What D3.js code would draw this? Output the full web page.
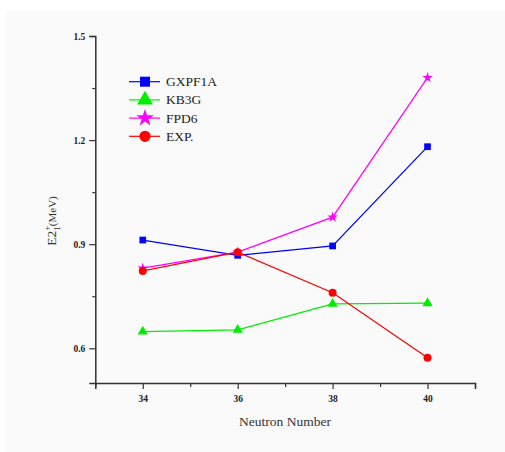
<!DOCTYPE html>
<html><head><meta charset="utf-8">
<script src="https://cdn.jsdelivr.net/npm/d3@7"></script>
<style>body{margin:0;background:#fff} svg text{font-family:"Liberation Serif",serif}</style>
</head><body>
<svg id="c" width="505" height="452"></svg>
<script>
const neutrons = [34, 36, 38, 40];
const gxpf1a = [0.912, 0.868, 0.895, 1.181];
const kb3g = [0.648, 0.653, 0.728, 0.730];
const fpd6 = [0.831, 0.877, 0.978, 1.380];
const exp = [0.823, 0.877, 0.760, 0.573];
const seriesNames = ["GXPF1A", "KB3G", "FPD6", "EXP."];
const yTicks = [0.6, 0.9, 1.2, 1.5];
const xTicks = [34, 36, 38, 40];

const series = [
  {name: seriesNames[0], values: gxpf1a, color: "#0000ff", sym: d3.symbolSquare, ms: 45, ls: 100},
  {name: seriesNames[1], values: kb3g, color: "#00ee00", sym: d3.symbolTriangle, ms: 45, ls: 110},
  {name: seriesNames[2], values: fpd6, color: "#ff00ff", sym: d3.symbolStar, ms: 35, ls: 95},
  {name: seriesNames[3], values: exp, color: "#ff0000", sym: d3.symbolCircle, ms: 50, ls: 100}
];

const svg = d3.select("#c");
svg.append("rect").attr("x", 6).attr("y", 11).attr("width", 499).attr("height", 441).attr("fill", "#fafafa");

const x = d3.scaleLinear().domain([33, 41]).range([95.3, 475]);
const y = d3.scaleLinear().domain([0.5, 1.5]).range([383, 36]);

svg.append("g").attr("transform", "translate(95.3,0)")
  .call(d3.axisLeft(y).tickValues(yTicks).tickFormat(d3.format(".1f")).tickSize(6).tickPadding(4));
svg.append("g").attr("transform", "translate(95.3,0)")
  .call(d3.axisLeft(y).tickValues([0.75, 1.05, 1.35]).tickFormat("").tickSize(3))
  .select(".domain").remove();
svg.append("g").attr("transform", "translate(0,383)")
  .call(d3.axisBottom(x).tickValues(xTicks).tickFormat(d3.format("d")).tickSize(6).tickPadding(6));
svg.append("g").attr("transform", "translate(0,383)")
  .call(d3.axisBottom(x).tickValues([33, 35, 37, 39, 41]).tickFormat("").tickSize(4))
  .select(".domain").remove();

svg.selectAll(".domain").attr("stroke", "#333").attr("stroke-width", 1.5);
svg.selectAll(".tick line").attr("stroke", "#333").attr("stroke-width", 1.2);
svg.selectAll(".tick text").attr("font-weight", "bold")
  .attr("font-size", 9.5).attr("fill", "#222");

const line = d3.line().x((d, i) => x(neutrons[i])).y(d => y(d));
series.forEach(s => {
  svg.append("path").datum(s.values).attr("d", line)
    .attr("fill", "none").attr("stroke", s.color).attr("stroke-width", 1.2);
});
series.forEach(s => {
  svg.selectAll(null).data(s.values).enter().append("path")
    .attr("transform", (d, i) => `translate(${x(neutrons[i])},${y(d)})`)
    .attr("d", d3.symbol().type(s.sym).size(s.ms))
    .attr("fill", s.color);
});

const lg = svg.append("g");
series.forEach((s, i) => {
  const yy = 81.7 + i * 18.2;
  lg.append("line").attr("x1", 129).attr("x2", 160).attr("y1", yy).attr("y2", yy)
    .attr("stroke", s.color).attr("stroke-width", 1.2);
  lg.append("path").attr("transform", `translate(145,${yy})`)
    .attr("d", d3.symbol().type(s.sym).size(s.ls)).attr("fill", s.color);
  lg.append("text").attr("x", 166).attr("y", yy + 4.5).text(s.name)
    .attr("font-size", 13.5).attr("fill", "#222");
});

svg.append("text").attr("x", 285).attr("y", 426).attr("text-anchor", "middle")
  .attr("font-size", 13.5).attr("fill", "#333").text("Neutron Number");

const yl = svg.append("text").attr("transform", "translate(56,221) rotate(-90)")
  .attr("text-anchor", "middle").attr("fill", "#333");
yl.append("tspan").attr("font-size", 13.5).text("E2");
yl.append("tspan").attr("font-size", 9).attr("dy", -6).text("+");
yl.append("tspan").attr("font-size", 9).attr("dx", -5).attr("dy", 10).text("1");
yl.append("tspan").attr("font-size", 11).attr("dy", -4).text("(MeV)");
</script>
</body></html>
